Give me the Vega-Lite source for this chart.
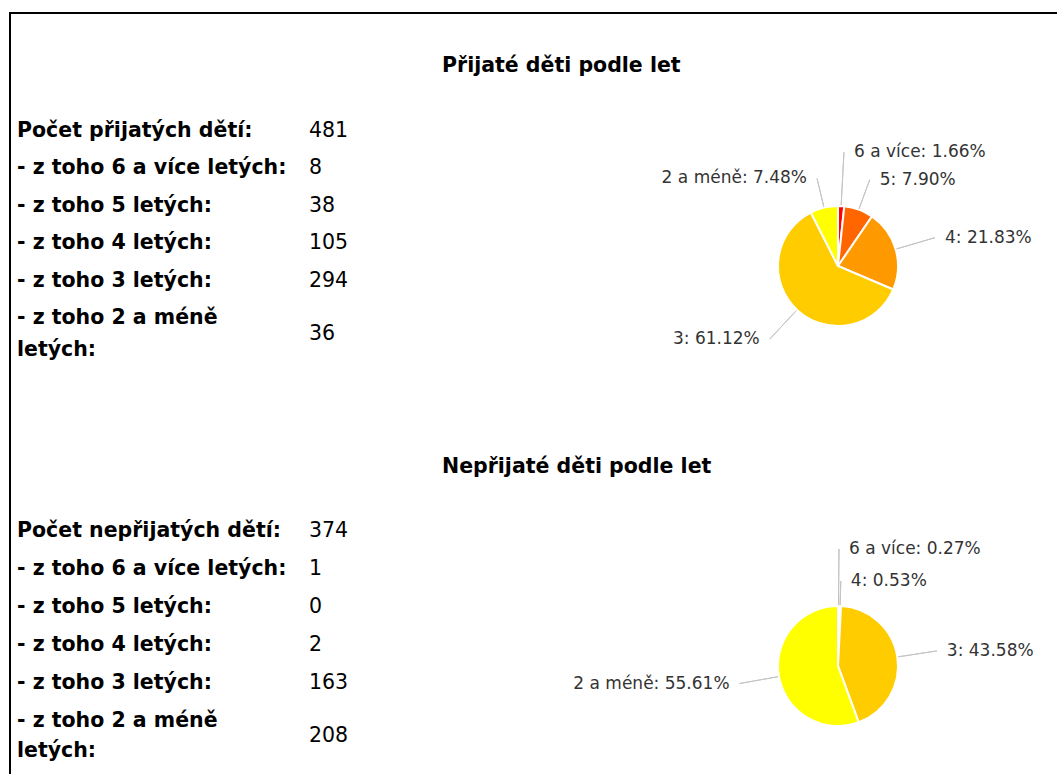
{
  "$schema": "https://vega.github.io/schema/vega-lite/v6.json",
  "padding": {"left": 9, "top": 12, "right": 0, "bottom": 0},
  "background": "white",
  "config": {"view": {"stroke": null}},
  "datasets": {
    "t1": [
      {"r": 1, "label": "Počet přijatých dětí:", "value": "481"},
      {"r": 2, "label": "- z toho 6 a více letých:", "value": "8"},
      {"r": 3, "label": "- z toho 5 letých:", "value": "38"},
      {"r": 4, "label": "- z toho 4 letých:", "value": "105"},
      {"r": 5, "label": "- z toho 3 letých:", "value": "294"},
      {"r": 6, "label": "- z toho 2 a méně\nletých:", "value": "36"}
    ],
    "t2": [
      {"r": 1, "label": "Počet nepřijatých dětí:", "value": "374"},
      {"r": 2, "label": "- z toho 6 a více letých:", "value": "1"},
      {"r": 3, "label": "- z toho 5 letých:", "value": "0"},
      {"r": 4, "label": "- z toho 4 letých:", "value": "2"},
      {"r": 5, "label": "- z toho 3 letých:", "value": "163"},
      {"r": 6, "label": "- z toho 2 a méně\nletých:", "value": "208"}
    ],
    "p1": [
      {"o": 1, "cat": "6 a více", "n": 8, "label": "6 a více: 1.66%"},
      {"o": 2, "cat": "5", "n": 38, "label": "5: 7.90%"},
      {"o": 3, "cat": "4", "n": 105, "label": "4: 21.83%"},
      {"o": 4, "cat": "3", "n": 294, "label": "3: 61.12%"},
      {"o": 5, "cat": "2 a méně", "n": 36, "label": "2 a méně: 7.48%"}
    ],
    "p2": [
      {"o": 1, "cat": "6 a více", "n": 1, "label": "6 a více: 0.27%"},
      {"o": 2, "cat": "5", "n": 0, "label": "5: 0.00%"},
      {"o": 3, "cat": "4", "n": 2, "label": "4: 0.53%"},
      {"o": 4, "cat": "3", "n": 163, "label": "3: 43.58%"},
      {"o": 5, "cat": "2 a méně", "n": 208, "label": "2 a méně: 55.61%"}
    ]
  },
  "spacing": 0,
  "hconcat": [
    {
      "width": 2, "height": 762,
      "view": {"fill": "#000000", "stroke": null},
      "data": {"values": []},
      "mark": "text",
      "encoding": {}
    },
    {
      "spacing": 0,
      "vconcat": [
        {
          "width": 1046, "height": 2,
          "view": {"fill": "#000000", "stroke": null},
          "data": {"values": []},
          "mark": "text",
          "encoding": {}
        },
        {
          "width": 862, "height": 104,
          "data": {"values": [{"t": "Přijaté děti podle let"}]},
          "mark": {"type": "text", "align": "left", "baseline": "middle", "font": "DejaVu Sans", "fontSize": 20.5, "fontWeight": "bold", "color": "#000000"},
          "encoding": {"text": {"field": "t", "type": "nominal"}}
        },
        {
          "spacing": 291,
          "hconcat": [
            {
              "data": {"name": "t1"},
              "width": {"step": 292},
              "height": {"step": 37.5},
              "encoding": {
                "y": {"field": "r", "type": "ordinal", "axis": null, "scale": {"padding": 0.34}}
              },
              "layer": [
                {
                  "transform": [{"filter": "datum.r < 6"}],
                  "mark": {"type": "text", "align": "left", "baseline": "middle", "font": "DejaVu Sans", "fontSize": 20.5, "fontWeight": "bold", "color": "#000000"},
                  "encoding": {
                    "x": {"datum": "label", "type": "nominal", "axis": null, "scale": {"domain": ["label", "value"], "padding": 0.0205}},
                    "text": {"field": "label", "type": "nominal"}
                  }
                },
                {
                  "transform": [{"filter": "datum.r == 6"}],
                  "mark": {"type": "text", "align": "left", "baseline": "middle", "lineBreak": "\n", "lineHeight": 32, "font": "DejaVu Sans", "fontSize": 20.5, "fontWeight": "bold", "color": "#000000"},
                  "encoding": {
                    "x": {"datum": "label", "type": "nominal", "axis": null},
                    "text": {"field": "label", "type": "nominal"}
                  }
                },
                {
                  "transform": [{"filter": "datum.r < 6"}],
                  "mark": {"type": "text", "align": "left", "baseline": "middle", "font": "DejaVu Sans", "fontSize": 20.5, "color": "#000000"},
                  "encoding": {
                    "x": {"datum": "value", "type": "nominal", "axis": null},
                    "text": {"field": "value", "type": "nominal"}
                  }
                },
                {
                  "transform": [{"filter": "datum.r == 6"}],
                  "mark": {"type": "text", "align": "left", "baseline": "middle", "dy": 16, "font": "DejaVu Sans", "fontSize": 20.5, "color": "#000000"},
                  "encoding": {
                    "x": {"datum": "value", "type": "nominal", "axis": null},
                    "text": {"field": "value", "type": "nominal"}
                  }
                }
              ]
            },
            {
              "data": {"name": "p1"},
              "width": 396, "height": 296,
              "layer": [
                {
                  "transform": [{"filter": "datum.n > 0"}],
                  "mark": {"type": "arc", "radius": 60, "stroke": "#ffffff", "strokeWidth": 2},
                  "encoding": {
                    "theta": {"field": "n", "type": "quantitative", "stack": true},
                    "order": {"field": "o", "type": "quantitative"},
                    "color": {"field": "cat", "type": "nominal", "legend": null,
                      "scale": {"domain": ["6 a více", "5", "4", "3", "2 a méně"], "range": ["#ff0000", "#ff6600", "#ff9900", "#ffcc00", "#ffff00"]}}
                  }
                },
                {
                  "transform": [
                    {"stack": "n", "groupby": [], "sort": [{"field": "o", "order": "ascending"}], "as": ["s0", "s1"]},
                    {"joinaggregate": [{"op": "sum", "field": "n", "as": "tot"}]},
                    {"fold": ["s0", "s1"], "as": ["edge", "pos"]},
                    {"aggregate": [{"op": "mean", "field": "pos", "as": "mid"}], "groupby": ["o", "label", "n", "tot"]},
                    {"filter": "datum.n > 0"}
                  ],
                  "layer": [
                    {
                      "mark": {"type": "arc", "filled": false, "color": "#c4c4c4", "strokeWidth": 1},
                      "encoding": {
                        "theta": {"field": "mid", "type": "quantitative", "stack": null},
                        "theta2": {"field": "mid"},
                        "radius": {"field": "o", "type": "quantitative", "scale": {"type": "linear", "zero": false, "domain": [1, 2, 3, 4, 5], "range": [114, 92, 101, 100, 90]}},
                        "radius2": {"value": 61}
                      }
                    },
                    {
                      "transform": [{"filter": "datum.mid * 2 < datum.tot"}],
                      "mark": {"type": "text", "align": "left", "baseline": "middle", "dx": 10, "font": "DejaVu Sans", "fontSize": 17, "color": "#333333"},
                      "encoding": {
                        "theta": {"field": "mid", "type": "quantitative", "stack": null},
                        "radius": {"field": "o", "type": "quantitative"},
                        "text": {"field": "label", "type": "nominal"}
                      }
                    },
                    {
                      "transform": [{"filter": "datum.mid * 2 >= datum.tot"}],
                      "mark": {"type": "text", "align": "right", "baseline": "middle", "dx": -10, "font": "DejaVu Sans", "fontSize": 17, "color": "#333333"},
                      "encoding": {
                        "theta": {"field": "mid", "type": "quantitative", "stack": null},
                        "radius": {"field": "o", "type": "quantitative"},
                        "text": {"field": "label", "type": "nominal"}
                      }
                    }
                  ]
                }
              ]
            }
          ]
        },
        {
          "width": 862, "height": 106,
          "data": {"values": [{"t": "Nepřijaté děti podle let"}]},
          "mark": {"type": "text", "align": "left", "baseline": "middle", "font": "DejaVu Sans", "fontSize": 20.5, "fontWeight": "bold", "color": "#000000"},
          "encoding": {"text": {"field": "t", "type": "nominal"}}
        },
        {
          "spacing": 224,
          "hconcat": [
            {
              "data": {"name": "t2"},
              "width": {"step": 292},
              "height": {"step": 38},
              "encoding": {
                "y": {"field": "r", "type": "ordinal", "axis": null, "scale": {"padding": 0.263}}
              },
              "layer": [
                {
                  "transform": [{"filter": "datum.r < 6"}],
                  "mark": {"type": "text", "align": "left", "baseline": "middle", "font": "DejaVu Sans", "fontSize": 20.5, "fontWeight": "bold", "color": "#000000"},
                  "encoding": {
                    "x": {"datum": "label", "type": "nominal", "axis": null, "scale": {"domain": ["label", "value"], "padding": 0.0205}},
                    "text": {"field": "label", "type": "nominal"}
                  }
                },
                {
                  "transform": [{"filter": "datum.r == 6"}],
                  "mark": {"type": "text", "align": "left", "baseline": "middle", "lineBreak": "\n", "lineHeight": 30, "font": "DejaVu Sans", "fontSize": 20.5, "fontWeight": "bold", "color": "#000000"},
                  "encoding": {
                    "x": {"datum": "label", "type": "nominal", "axis": null},
                    "text": {"field": "label", "type": "nominal"}
                  }
                },
                {
                  "transform": [{"filter": "datum.r < 6"}],
                  "mark": {"type": "text", "align": "left", "baseline": "middle", "font": "DejaVu Sans", "fontSize": 20.5, "color": "#000000"},
                  "encoding": {
                    "x": {"datum": "value", "type": "nominal", "axis": null},
                    "text": {"field": "value", "type": "nominal"}
                  }
                },
                {
                  "transform": [{"filter": "datum.r == 6"}],
                  "mark": {"type": "text", "align": "left", "baseline": "middle", "dy": 15, "font": "DejaVu Sans", "fontSize": 20.5, "color": "#000000"},
                  "encoding": {
                    "x": {"datum": "value", "type": "nominal", "axis": null},
                    "text": {"field": "value", "type": "nominal"}
                  }
                }
              ]
            },
            {
              "spacing": 0,
              "vconcat": [
                {
                  "width": 396, "height": 19,
                  "data": {"values": []},
                  "mark": "text",
                  "encoding": {}
                },
                {
                  "data": {"name": "p2"},
                  "width": 396, "height": 200,
                  "layer": [
                    {
                      "transform": [{"filter": "datum.n > 0"}],
                      "mark": {"type": "arc", "radius": 60, "stroke": "#ffffff", "strokeWidth": 2},
                      "encoding": {
                        "theta": {"field": "n", "type": "quantitative", "stack": true},
                        "order": {"field": "o", "type": "quantitative"},
                        "color": {"field": "cat", "type": "nominal", "legend": null,
                          "scale": {"domain": ["6 a více", "5", "4", "3", "2 a méně"], "range": ["#ff0000", "#ff6600", "#ff9900", "#ffcc00", "#ffff00"]}}
                      }
                    },
                    {
                      "transform": [
                        {"stack": "n", "groupby": [], "sort": [{"field": "o", "order": "ascending"}], "as": ["s0", "s1"]},
                        {"joinaggregate": [{"op": "sum", "field": "n", "as": "tot"}]},
                        {"fold": ["s0", "s1"], "as": ["edge", "pos"]},
                        {"aggregate": [{"op": "mean", "field": "pos", "as": "mid"}], "groupby": ["o", "label", "n", "tot"]},
                        {"filter": "datum.n > 0"}
                      ],
                      "layer": [
                        {
                          "mark": {"type": "arc", "filled": false, "color": "#c4c4c4", "strokeWidth": 1},
                          "encoding": {
                            "theta": {"field": "mid", "type": "quantitative", "stack": null},
                            "theta2": {"field": "mid"},
                            "radius": {"field": "o", "type": "quantitative", "scale": {"type": "linear", "zero": false, "domain": [1, 2, 3, 4, 5], "range": [117, 100, 85, 100, 100]}},
                            "radius2": {"value": 61}
                          }
                        },
                        {
                          "transform": [{"filter": "datum.mid * 2 < datum.tot"}],
                          "mark": {"type": "text", "align": "left", "baseline": "middle", "dx": 10, "font": "DejaVu Sans", "fontSize": 17, "color": "#333333"},
                          "encoding": {
                            "theta": {"field": "mid", "type": "quantitative", "stack": null},
                            "radius": {"field": "o", "type": "quantitative"},
                            "text": {"field": "label", "type": "nominal"}
                          }
                        },
                        {
                          "transform": [{"filter": "datum.mid * 2 >= datum.tot"}],
                          "mark": {"type": "text", "align": "right", "baseline": "middle", "dx": -10, "font": "DejaVu Sans", "fontSize": 17, "color": "#333333"},
                          "encoding": {
                            "theta": {"field": "mid", "type": "quantitative", "stack": null},
                            "radius": {"field": "o", "type": "quantitative"},
                            "text": {"field": "label", "type": "nominal"}
                          }
                        }
                      ]
                    }
                  ]
                }
              ]
            }
          ]
        }
      ]
    }
  ]
}
